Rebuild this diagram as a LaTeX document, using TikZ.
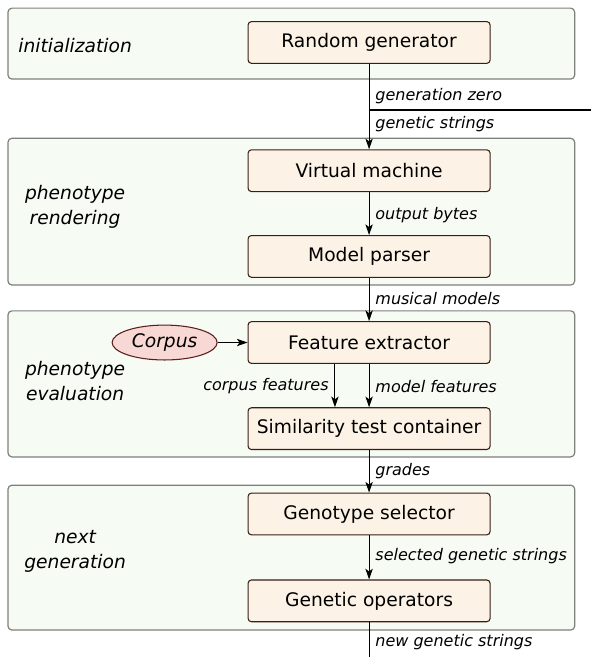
\documentclass[tikz,border=0pt]{standalone}
\usepackage{fontspec}
\setmainfont{DejaVu Sans}
\usepackage{tikz}
\usetikzlibrary{shapes.geometric,arrows.meta,positioning,calc}
\definecolor{panelfill}{RGB}{246,251,244}
\definecolor{panelline}{RGB}{125,128,125}
\definecolor{boxfill}{RGB}{252,243,230}
\definecolor{boxline}{RGB}{58,30,20}
\definecolor{corpusfill}{RGB}{248,216,212}
\definecolor{corpusline}{RGB}{90,30,30}
\tikzset{
  stage/.style={rectangle,draw=panelline,fill=panelfill,line width=0.9pt,
    minimum width=14.94cm,rounded corners=3pt},
  stagelbl/.style={align=center,inner sep=0pt,font=\fontsize{14}{19}\selectfont\itshape},
  proc/.style={rectangle,draw=boxline,fill=boxfill,line width=0.8pt,minimum width=6.38cm,
    minimum height=1.1cm,rounded corners=2.5pt,font=\fontsize{14}{16}\selectfont},
  src/.style={ellipse,draw=corpusline,fill=corpusfill,line width=0.8pt,minimum width=2.77cm,
    minimum height=0.92cm,inner sep=0pt,font=\fontsize{14}{16}\selectfont\itshape},
  flow/.style={-{Stealth[length=8pt,width=5.5pt,inset=2pt]},line width=0.8pt,color=black},
  note/.style={inner sep=0pt,font=\fontsize{12}{14}\selectfont\itshape}
}
\begin{document}
\begin{tikzpicture}
    \useasboundingbox (0,0) rectangle (15.58,17.32);

    % Stages
    \node[stage,minimum height=1.87cm] (init) at (7.68,16.17) {};
    \node[stage,minimum height=3.87cm] (render) at (7.68,11.74) {};
    \node[stage,minimum height=3.85cm] (eval) at (7.68,7.20) {};
    \node[stage,minimum height=3.82cm] (nextgen) at (7.68,2.62) {};

    \node[stagelbl] (initlbl) at (1.98,16.13) {initialization};
    \node[stagelbl] (renderlbl) at (1.98,11.87) {phenotype\\rendering};
    \node[stagelbl] (evallbl) at (1.98,7.27) {phenotype\\evaluation};
    \node[stagelbl] (nextlbl) at (1.98,2.78) {next\\generation};

    % Processing blocks
    \node[proc] (randgen) at (9.73,16.20) {Random generator};
    \node[proc] (vm) at (9.73,12.82) {Virtual machine};
    \node[proc] (parser) at (9.73,10.56) {Model parser};
    \node[proc] (featx) at (9.73,8.29) {Feature extractor};
    \node[proc] (simil) at (9.73,6.02) {Similarity test container};
    \node[proc] (gensel) at (9.73,3.77) {Genotype selector};
    \node[proc] (genop) at (9.73,1.48) {Genetic operators};

    % Corpus
    \node[src] (corpus) at (4.34,8.29) {Corpus};

    \coordinate (split) at (15.58,14.42);
    \coordinate (out) at (9.73,0);

    % Arrows
    \draw[flow] (randgen) -- (vm);
    \draw[line width=0.8pt] (randgen.south |- split) -- (split);
    \draw[flow] (vm) -- (parser);
    \draw[flow] (parser) -- (featx);
    \draw[flow] (corpus) -- (featx);
    \draw[flow] ([xshift=-0.9cm]featx.south) -- ([xshift=-0.9cm]simil.north);
    \draw[flow] (featx) -- (simil);
    \draw[flow] (simil) -- (gensel);
    \draw[flow] (gensel) -- (genop);
    \draw[line width=0.8pt] (genop) -- (out);

    % Arrow labels
    \node[note,anchor=west] (genzero) at (9.89,14.79) {generation zero};
    \node[note,anchor=west] (genstr) at (9.89,14.05) {genetic strings};
    \node[note,anchor=west] (bytes) at (9.89,11.65) {output bytes};
    \node[note,anchor=west] (models) at (9.89,9.46) {musical models};
    \node[note,anchor=east] (cfeat) at (8.67,7.14) {corpus features};
    \node[note,anchor=west] (mfeat) at (9.89,7.14) {model features};
    \node[note,anchor=west] (grades) at (9.89,4.90) {grades};
    \node[note,anchor=west] (selstr) at (9.89,2.66) {selected genetic strings};
    \node[note,anchor=west] (newstr) at (9.89,0.40) {new genetic strings};
  \end{tikzpicture}
\end{document}
